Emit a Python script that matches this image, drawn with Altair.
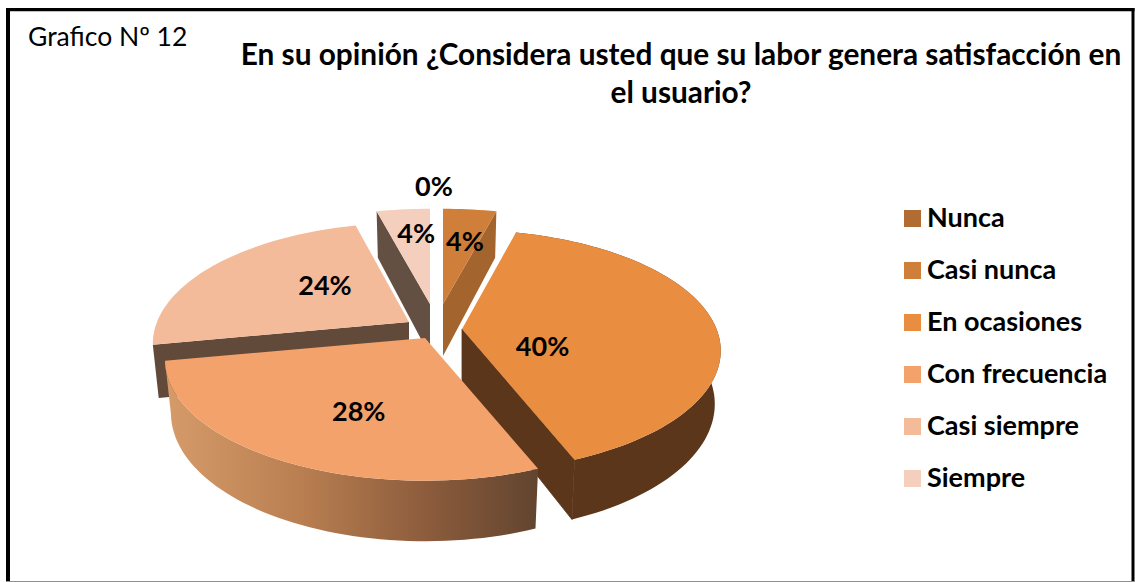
import math
import altair as alt

# Survey results, clockwise from 12 o'clock
categories = ["Nunca", "Casi nunca", "En ocasiones", "Con frecuencia", "Casi siempre", "Siempre"]
shares = [0, 4, 40, 28, 24, 4]
legend_colors = ["#b06c33", "#cf7f3c", "#ec8f43", "#f6a46c", "#f6bc9f", "#f8d3c1"]
top_colors = ["#b06c33", "#d07f3b", "#e98d40", "#f3a26c", "#f4bb9b", "#f5cfbd"]
cut_colors = [None, "#a3642d", "#5c361b", None, "#614a3a", "#645043"]

# Pie layout: each exploded slice has its own apex and slight size correction;
# the disc is tilted with some perspective
APEX = [(434, 304), (443, 304), (462, 329), (425, 338), (409, 322), (430, 304)]
RX, RY, PERSP = 252, 117, 0.18
SCALE_X = [1, 1, 1.01, 1.015, 1, 1]
SCALE_Y = [1, 0.96, 1, 1, 1, 0.96]
LABEL_FRAC = [1.175, 0.63, 0.32, 0.55, 0.5, 0.7]
LABEL_NUDGE = [(0, 1), (5, 1), (1, 21), (13, 8), (13, -6), (5, 0)]
FONT = "Lato"
W, H = 1135, 582


def offset(deg, frac=1.0):
    t = math.radians(deg)
    k = 1 / (1 + PERSP * math.cos(t))
    return frac * RX * math.sin(t) * k, -frac * RY * math.cos(t) * k


def top_point(i, deg):
    dx, dy = offset(deg)
    return APEX[i][0] + SCALE_X[i] * dx, APEX[i][1] + SCALE_Y[i] * dy


def lower_point(i, deg, frac=1.0):
    # the underside sits lower and is slightly narrower than the top face
    dx, dy = offset(deg, frac)
    dx, dy = SCALE_X[i] * dx, SCALE_Y[i] * dy
    return APEX[i][0] + 0.977 * dx, APEX[i][1] + dy + 52 + 0.06 * dy


def feature(points, **props):
    ring = [[round(x, 2), round(y, 2)] for x, y in points]
    ring.append(ring[0])
    return {"type": "Feature", "properties": props,
            "geometry": {"type": "Polygon", "coordinates": [ring]}}


# Angular extent of every slice from the shares
starts, total = [], 0
for s in shares:
    starts.append(total)
    total += s * 3.6
ends = [a + s * 3.6 for a, s in zip(starts, shares)]


def sweep(i):
    n = max(2, int(shares[i] * 2) + 2)
    return [starts[i] + (ends[i] - starts[i]) * j / (n - 1) for j in range(n)]


def top_face(i):
    return feature([APEX[i]] + [top_point(i, a) for a in sweep(i)], name=categories[i])


def wall(i):
    arc = sweep(i)
    return feature([top_point(i, a) for a in arc] + [lower_point(i, a) for a in reversed(arc)])


def cut(i, deg):
    return feature([APEX[i], top_point(i, deg), lower_point(i, deg), lower_point(i, deg, 0)])


projection = alt.Projection(type="identity", scale=1, translate=[0, 0])


def shape(feat, **mark):
    mark.setdefault("strokeWidth", 0)
    return alt.Chart(alt.Data(values=[feat])).mark_geoshape(**mark).project(**projection.to_dict())


def top_layer(i):
    return (
        alt.Chart(alt.Data(values=[top_face(i)]))
        .mark_geoshape(strokeWidth=0, opacity=1)
        .encode(
            fill=alt.Fill(
                "properties.name:N",
                scale=alt.Scale(domain=categories, range=top_colors),
                legend=alt.Legend(
                    title=None, orient="none", legendX=899, legendY=205, padding=0,
                    symbolType="square", symbolSize=289, symbolStrokeWidth=0,
                    labelFont=FONT, labelFontWeight="bold", labelFontSize=27,
                    labelColor="#000000", labelOffset=1, rowPadding=24, labelLimit=260,
                ),
            )
        )
        .project(**projection.to_dict())
    )


wall_gradient = alt.LinearGradient(
    gradient="linear", x1=0, x2=1, y1=0, y2=0,
    stops=[
        alt.GradientStop(offset=0, color="#d69b69"),
        alt.GradientStop(offset=0.35, color="#bb8052"),
        alt.GradientStop(offset=0.7, color="#8c5c3c"),
        alt.GradientStop(offset=1, color="#62442f"),
    ],
)

# Back slices first; the front slice overlaps its neighbours' cut faces
layers = [
    shape(cut(5, starts[5]), fill=cut_colors[5]), top_layer(5),
    shape(cut(1, ends[1]), fill=cut_colors[1]), top_layer(1),
    shape(cut(4, starts[4]), fill=cut_colors[4]), top_layer(4),
    shape(wall(2), fill=cut_colors[2]),
    shape(cut(2, ends[2]), fill=cut_colors[2], stroke=cut_colors[2], strokeWidth=0.8),
    top_layer(2),
    shape(wall(3), fill=wall_gradient), top_layer(3), top_layer(0),
]

# Percentage labels follow each slice's mid-angle
label_rows = []
for i, s in enumerate(shares):
    dx, dy = offset((starts[i] + ends[i]) / 2, LABEL_FRAC[i])
    label_rows.append({
        "px": APEX[i][0] + dx + LABEL_NUDGE[i][0],
        "py": APEX[i][1] + dy + LABEL_NUDGE[i][1],
        "pct": f"{s}%",
    })
pct_labels = alt.Chart(alt.Data(values=label_rows)).mark_text(
    font=FONT, fontWeight="bold", fontSize=27, color="#000000", baseline="middle", align="center"
).encode(
    x=alt.X("px:Q", scale=None, axis=None),
    y=alt.Y("py:Q", scale=None, axis=None),
    text="pct:N",
)


def caption(text, x, y, size, weight, align):
    return alt.Chart(alt.Data(values=[{"t": text}])).mark_text(
        font=FONT, fontSize=size, fontWeight=weight, align=align, baseline="alphabetic", color="#000000"
    ).encode(x=alt.value(x), y=alt.value(y), text="t:N")


texts = [
    caption("Grafico Nº 12", 28, 46, 26.5, "normal", "left"),
    caption("En su opinión ¿Considera usted que su labor genera satisfacción en", 681, 65, 29.8, "bold", "center"),
    caption("el usuario?", 681, 103, 29.8, "bold", "center"),
]


def frame(x, x2, y, y2, color):
    return alt.Chart(alt.Data(values=[{"a": 0}])).mark_rect(color=color).encode(
        x=alt.value(x), x2=alt.value(x2), y=alt.value(y), y2=alt.value(y2)
    )


border = [
    frame(6, 10, 8, 582, "#000000"),
    frame(6, 1134.5, 8, 11.3, "#000000"),
    frame(1131.5, 1134.5, 8, 582, "#000000"),
    frame(6, 1134.5, 581, 582, "#909090"),
]

chart = alt.layer(*layers, pct_labels, *texts, *border).properties(
    width=W, height=H, padding=0, background="white",
    autosize=alt.AutoSizeParams(type="none"),
).configure_view(stroke=None).resolve_scale(fill="shared")

chart.save("out.html", embed_options={"renderer": "svg", "actions": False})
